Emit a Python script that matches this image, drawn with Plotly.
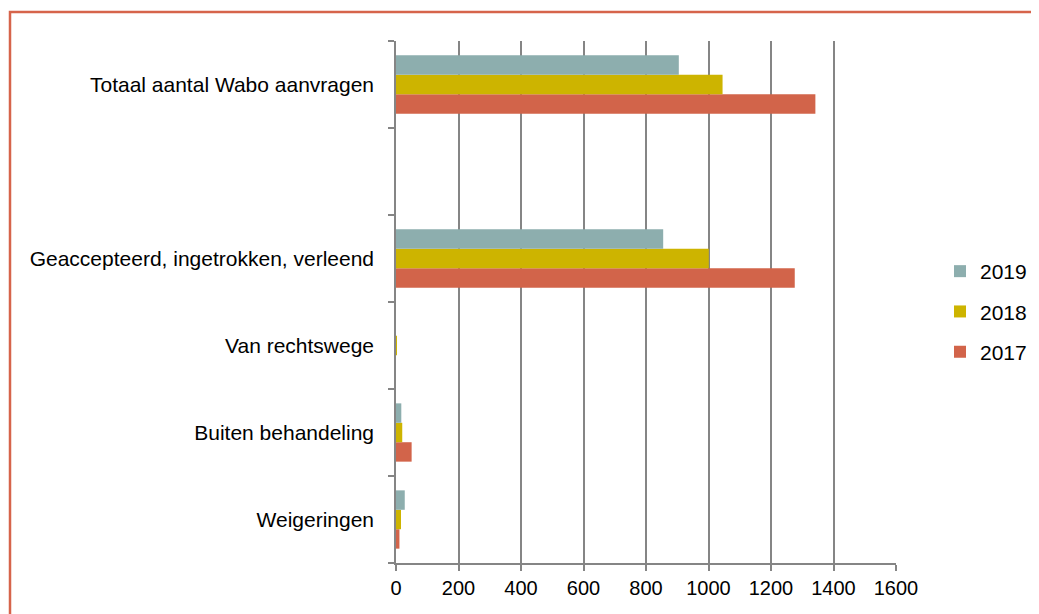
import plotly.graph_objects as go

categories = ["Weigeringen", "Buiten behandeling", "Van rechtswege",
              "Geaccepteerd, ingetrokken, verleend", " ", "Totaal aantal Wabo aanvragen"]
bar_categories = ["Weigeringen", "Buiten behandeling", "Van rechtswege",
                  "Geaccepteerd, ingetrokken, verleend", "Totaal aantal Wabo aanvragen"]
v2017 = [11, 50, 0, 1276, 1342]
v2018 = [16, 20, 2, 1001, 1045]
v2019 = [28, 17, 0, 855, 905]
x_ticks = [0, 200, 400, 600, 800, 1000, 1200, 1400, 1600]

series = [("2017", v2017, "#D2644A", 3), ("2018", v2018, "#CDB400", 2), ("2019", v2019, "#8DAEAE", 1)]

fig = go.Figure()
for name, vals, col, rank in series:
    fig.add_trace(go.Bar(
        y=bar_categories, x=vals, name=name, orientation="h",
        marker=dict(color=col, line=dict(width=0)),
        legendgroup=name, legendrank=rank,
    ))

OFF = 8  # page body margin
W, H = 1039 - OFF, 614 - OFF
# plot area in screen pixels
SL, SR, ST, SB = 396, 896, 41, 563
L, T = SL - OFF, ST - OFF
R, B = W - (SR - OFF), H - (SB - OFF)
pw = W - L - R
ph = H - T - B

def px_x(x):
    return (x - OFF - L) / pw

def px_y(y):
    return (H - B - (y - OFF)) / ph

def cx(x):
    return (x - OFF) / W

def cy(y):
    return 1 - (y - OFF) / H

GRID = "#858585"

fig.update_layout(
    width=W, height=H,
    margin=dict(l=L, r=R, t=T, b=B, pad=0),
    paper_bgcolor="white", plot_bgcolor="white",
    barmode="group", bargap=0.33, bargroupgap=0,
    font=dict(family="Liberation Sans, Arial, sans-serif", size=21, color="#000000"),
    legend=dict(
        traceorder="grouped", tracegroupgap=10,
        xref="container", yref="container",
        x=cx(940), y=cy(251), xanchor="left", yanchor="top",
        font=dict(size=21), itemwidth=30, bgcolor="rgba(0,0,0,0)",
    ),
    xaxis=dict(
        range=[0, 1600], tickvals=x_ticks, ticktext=[str(v) for v in x_ticks],
        tickfont=dict(size=20),
        showgrid=True, gridcolor=GRID, gridwidth=1.5,
        showline=True, linecolor=GRID, linewidth=1.5,
        ticks="outside", ticklen=6, tickcolor=GRID, tickwidth=1.5,
        zeroline=False, fixedrange=True,
    ),
    yaxis=dict(
        type="category", categoryorder="array", categoryarray=categories,
        range=[-0.5, 5.5], tickson="boundaries",
        tickfont=dict(size=21),
        showgrid=False, showline=True, linecolor=GRID, linewidth=1.5,
        ticks="outside", ticklen=6, tickcolor=GRID, tickwidth=1.5,
        ticklabelstandoff=16, zeroline=False, fixedrange=True,
    ),
    shapes=[dict(
        type="rect", xref="paper", yref="paper",
        x0=px_x(10), x1=px_x(1060), y0=px_y(640), y1=px_y(12),
        line=dict(color="#D6644B", width=2.5), fillcolor="rgba(0,0,0,0)", layer="above",
    )],
)

fig.write_html("out.html")
